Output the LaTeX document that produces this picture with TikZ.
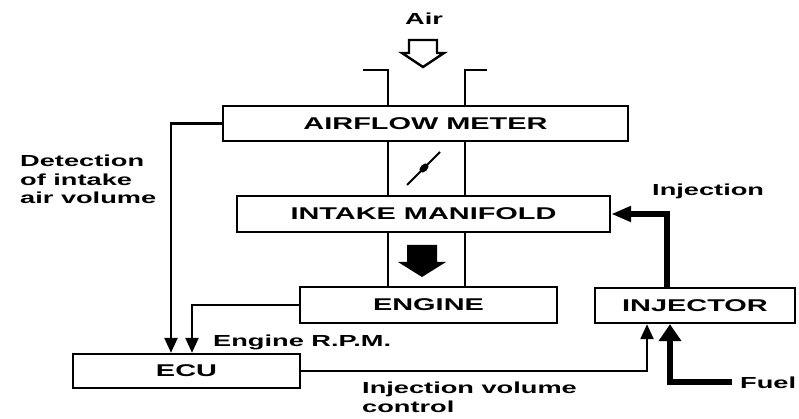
\documentclass[tikz,border=0pt]{standalone}
\usepackage{fontspec}
\newfontfamily\diagfont[FakeStretch=1.7]{Liberation Sans}
\usetikzlibrary{arrows.meta,positioning}

\begin{document}
\begin{tikzpicture}[
  x=1pt, y=-1pt,
  unit/.style={rectangle, draw, line width=2.4pt, inner sep=0pt, font=\diagfont\bfseries\fontsize{17}{19}\selectfont},
  note/.style={inner sep=0pt, align=left, font=\diagfont\bfseries\fontsize{16}{18.5}\selectfont},
  pipe/.style={line width=2.6pt},
  signal/.style={-{Triangle[length=15pt,width=13pt]}, line width=2.4pt},
  feed/.style={line width=6pt}
]
  \useasboundingbox (0,0) rectangle (799,419);

  % Blocks
  \node[unit, minimum width=405pt, minimum height=35pt] (afm) at (425.5,123.5) {AIRFLOW METER};
  \node[unit, minimum width=373pt, minimum height=36pt] (manifold) at (423.5,214) {INTAKE MANIFOLD};
  \node[unit, minimum width=257pt, minimum height=36pt] (engine) at (428.5,305) {ENGINE};
  \node[unit, minimum width=200pt, minimum height=35pt] (injector) at (695,305.5) {INJECTOR};
  \node[unit, minimum width=227pt, minimum height=34pt] (ecu) at (186.5,371) {ECU};

  % Texts
  \node[note, anchor=base] (air) at (424,25) {Air};
  \node[note, anchor=north west] (detect) at (20,155) {Detection\\of intake\\air volume};
  \node[note, anchor=base west] (rpm) at (213,346) {Engine R.P.M.};
  \node[note, anchor=north west] (volume) at (362,382) {Injection volume\\control};
  \node[note, anchor=base west] (inject) at (652,196) {Injection};
  \node[note, anchor=base west] (fuel) at (740,388) {Fuel};

  % Air duct
  \coordinate (pl) at (388,70);
  \coordinate (pr) at (465,70);
  \draw[pipe] (363,70) -- (pl) -- (pl |- afm.north);
  \draw[pipe] (487,70) -- (pr) -- (pr |- afm.north);
  \draw[pipe] (pl |- afm.south) -- (pl |- manifold.north);
  \draw[pipe] (pr |- afm.south) -- (pr |- manifold.north);
  \draw[pipe] (pl |- manifold.south) -- (pl |- engine.north);
  \draw[pipe] (pr |- manifold.south) -- (pr |- engine.north);

  % Air flow arrows and throttle
  \draw[line width=2.4pt, line join=miter] (409,40) -- (437,40) -- (437,53) -- (444,53) -- (423,67) -- (402,53) -- (409,53) -- cycle;
  \fill (407,245) -- (437,245) -- (437,262) -- (446,262) -- (422,277) -- (398,262) -- (407,262) -- cycle;
  \draw[line width=2pt] (407,185) -- (440,152);
  \fill[rotate around={45:(424,168)}] (424,168) ellipse (5.5 and 3.5);

  % Signals
  \draw[signal] (afm.west) -| ([xshift=-15.5]ecu.north);
  \draw[signal] (engine.west) -| ([xshift=5.5]ecu.north);
  \draw[signal] (ecu.east) -| ([xshift=-48]injector.south);

  % Fuel path
  \draw[feed, -{Triangle[length=17pt,width=22pt]}] ([xshift=-8]fuel.west |- 0,382) -| ([xshift=-25]injector.south);
  \draw[feed, -{Triangle[length=20pt,width=15pt]}] ([xshift=-28]injector.north) |- (manifold.east);
\end{tikzpicture}
\end{document}
